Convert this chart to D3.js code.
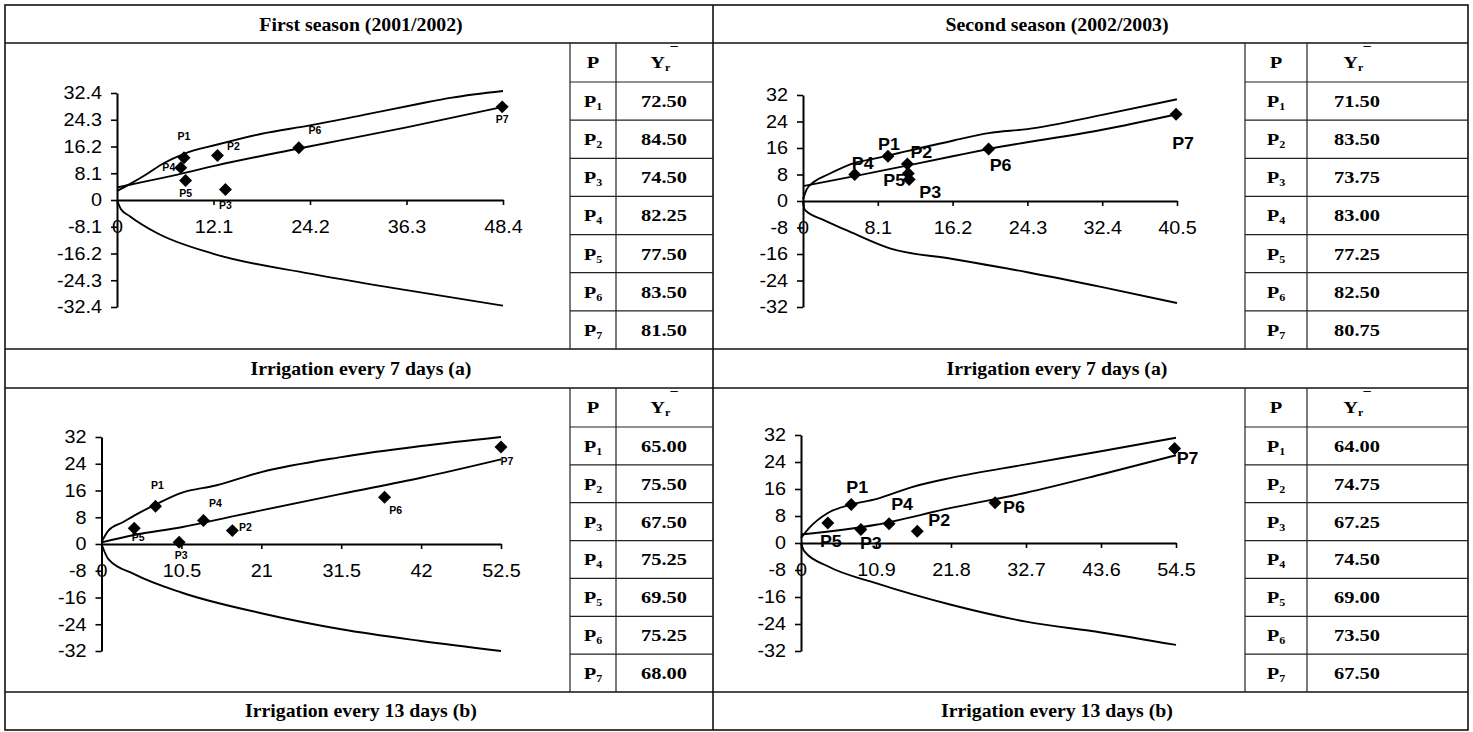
<!DOCTYPE html>
<html><head><meta charset="utf-8">
<script src="https://cdn.jsdelivr.net/npm/d3@7"></script>
<style>body{margin:0;background:#fff}</style>
</head><body><svg id="c" width="1473" height="732"></svg>
<script>
// ---------------- data ----------------
const seasonTitles = ["First season (2001/2002)", "Second season (2002/2003)"];
const irrigationLabels = ["Irrigation every 7 days (a)", "Irrigation every 13 days (b)"];
const pointNames = ["P1", "P2", "P3", "P4", "P5", "P6", "P7"];

// Panel A: first season, irrigation every 7 days
const xTicksA = [0, 12.1, 24.2, 36.3, 48.4];
const yTicksA = [-32.4, -24.3, -16.2, -8.1, 0, 8.1, 16.2, 24.3, 32.4];
const pointsXA = [8.4, 12.6, 13.6, 8.0, 8.6, 22.8, 48.3];
const pointsYA = [12.8, 13.5, 3.2, 9.8, 5.9, 15.8, 28.2];
const upperXA = [0, 1.6, 3.7, 5.9, 8.4, 12.6, 18, 24.2, 31.4, 37.6, 42, 48.4];
const upperYA = [2.7, 4.8, 7.8, 11.2, 14, 16.8, 20, 22.6, 26, 29, 31, 33];
const middleXA = [0, 1.75, 7.6, 12.5, 22.8, 36.3, 48.4];
const middleYA = [3.8, 4.7, 7.7, 10.5, 15.6, 22, 28.2];
const lowerXA = [0, 0.5, 1.6, 5, 12.1, 24.2, 36.3, 48.4];
const lowerYA = [0, -2.8, -4.9, -10, -16.3, -22.3, -27.3, -32];
const yrA = ["72.50", "84.50", "74.50", "82.25", "77.50", "83.50", "81.50"];

// Panel B: second season, irrigation every 7 days
const xTicksB = [0, 8.1, 16.2, 24.3, 32.4, 40.5];
const yTicksB = [-32, -24, -16, -8, 0, 8, 16, 24, 32];
const pointsXB = [9.2, 11.3, 11.5, 5.6, 11.4, 20.1, 40.4];
const pointsYB = [13.5, 11.2, 6.5, 8.0, 8.3, 15.7, 26.2];
const upperXB = [0, 0.4, 1.2, 2.7, 5.6, 8.1, 10.4, 16.2, 20.1, 24.3, 32.4, 40.5];
const upperYB = [0.5, 3.5, 5.8, 8, 11.5, 13, 14.5, 18.2, 20.5, 21.7, 26, 30.7];
const middleXB = [0, 5.6, 16.2, 20.1, 32.4, 40.5];
const middleYB = [4.5, 7.5, 13.5, 15.7, 21.5, 26.2];
const lowerXB = [0, 0.2, 2.2, 4.7, 9.4, 16.2, 24.3, 32.4, 40.5];
const lowerYB = [0, -2.7, -5.7, -8.8, -14.3, -17.5, -21.5, -26, -30.8];
const yrB = ["71.50", "83.50", "73.75", "83.00", "77.25", "82.50", "80.75"];

// Panel C: first season, irrigation every 13 days
const xTicksC = [0, 10.5, 21, 31.5, 42, 52.5];
const yTicksC = [-32, -24, -16, -8, 0, 8, 16, 24, 32];
const pointsXC = [7.1, 17.2, 10.2, 13.4, 4.3, 37.2, 52.5];
const pointsYC = [11.3, 4.0, 0.5, 7.0, 4.7, 14.0, 29.0];
const upperXC = [0, 0.9, 2.8, 4.3, 7.1, 10.5, 15, 21, 31.5, 42, 52.5];
const upperYC = [0.5, 4, 6.5, 8.5, 11.8, 15.3, 17.5, 21.5, 26, 29.3, 32];
const middleXC = [0, 4.3, 10.5, 17.7, 31.5, 42, 52.5];
const middleYC = [0.5, 2.7, 5, 8.5, 15, 19.8, 25.3];
const lowerXC = [0, 0.9, 4.3, 10.5, 21, 31.5, 42, 52.5];
const lowerYC = [0, -4.5, -9, -14.5, -20.7, -25.5, -29, -32];
const yrC = ["65.00", "75.50", "67.50", "75.25", "69.50", "75.25", "68.00"];

// Panel D: second season, irrigation every 13 days
const xTicksD = [0, 10.9, 21.8, 32.7, 43.6, 54.5];
const yTicksD = [-32, -24, -16, -8, 0, 8, 16, 24, 32];
const pointsXD = [7.3, 16.9, 8.7, 12.8, 3.9, 28.2, 54.3];
const pointsYD = [11.4, 3.5, 4.0, 5.7, 5.9, 11.9, 28.0];
const upperXD = [0, 1.2, 3.9, 7.3, 10.9, 16, 21.8, 32.7, 43.6, 54.5];
const upperYD = [1.5, 4.5, 8.9, 11.4, 13, 16.5, 19.3, 23.3, 27.2, 31.2];
const middleXD = [0, 10.9, 21.8, 32.7, 43.6, 54.5];
const middleYD = [2.5, 5.4, 10.4, 14.9, 20.3, 26];
const lowerXD = [0, 0.5, 3.9, 10.9, 21.8, 32.7, 43.6, 54.5];
const lowerYD = [0, -2.5, -6.9, -11.9, -18.3, -23.3, -26.5, -30.2];
const yrD = ["64.00", "74.75", "67.25", "74.50", "69.00", "73.50", "67.50"];

// ---------------- layout (pixels / styling only) ----------------
const layout = {
  outer: { x0: 5, y0: 5, x1: 1468, y1: 730 },
  divX: 713,
  hLines: [43, 349, 388, 692],
  titleY: 25, rowLabelY: [369, 711],
  titleX: [361, 1057],
  tables: [
    { cols: [570, 616, 713], pX: 593, vX: 664 },
    { cols: [1245, 1307, 1468], pX: 1276, vX: 1357 }
  ],
  tableRows: [{ y0: 43, yh: 82, y1: 349 }, { y0: 388, yh: 427, y1: 692 }],
  panels: {
    A: { x: [117, 503], y: [93, 307], lab: 10, off: [[0,-21],[16,-9],[0,16],[-12,0],[0,13],[16,-17],[0,13]] },
    B: { x: [803, 1177], y: [95, 307], lab: 17, off: [[1,-12],[14,-12],[21,13],[8,-11],[-14,7],[12,16],[7,29]] },
    C: { x: [101.5, 501], y: [437, 651], lab: 10, off: [[2,-21],[13,-3],[2,13],[12,-17],[4,9],[11,13],[6,15]] },
    D: { x: [801, 1176], y: [435, 651], lab: 17, off: [[6,-17],[22,-11],[10,14],[13,-20],[3,18],[19,4],[13,10]] }
  }
};

const panelData = {
  A: { xt: xTicksA, yt: yTicksA, px: pointsXA, py: pointsYA, ux: upperXA, uy: upperYA, mx: middleXA, my: middleYA, lx: lowerXA, ly: lowerYA, yr: yrA, col: 0, row: 0 },
  B: { xt: xTicksB, yt: yTicksB, px: pointsXB, py: pointsYB, ux: upperXB, uy: upperYB, mx: middleXB, my: middleYB, lx: lowerXB, ly: lowerYB, yr: yrB, col: 1, row: 0 },
  C: { xt: xTicksC, yt: yTicksC, px: pointsXC, py: pointsYC, ux: upperXC, uy: upperYC, mx: middleXC, my: middleYC, lx: lowerXC, ly: lowerYC, yr: yrC, col: 0, row: 1 },
  D: { xt: xTicksD, yt: yTicksD, px: pointsXD, py: pointsYD, ux: upperXD, uy: upperYD, mx: middleXD, my: middleYD, lx: lowerXD, ly: lowerYD, yr: yrD, col: 1, row: 1 }
};

// ---------------- drawing ----------------
const svg = d3.select("#c");
const SERIF = "'Liberation Serif','Times New Roman',serif";
const SANS = "'Liberation Sans',Arial,sans-serif";

function stretch(sel, sx) {
  sel.each(function () {
    const t = d3.select(this);
    const x = +t.attr("x") || 0, y = +t.attr("y") || 0;
    t.attr("transform", `translate(${x},${y}) scale(${sx},1) translate(${-x},${-y})`);
  });
}

const L = layout;
// frame
svg.append("rect").attr("x", L.outer.x0).attr("y", L.outer.y0)
  .attr("width", L.outer.x1 - L.outer.x0).attr("height", L.outer.y1 - L.outer.y0)
  .attr("fill", "none").attr("stroke", "#111").attr("stroke-width", 1.6);
L.hLines.forEach(y => svg.append("line").attr("x1", L.outer.x0).attr("x2", L.outer.x1)
  .attr("y1", y).attr("y2", y).attr("stroke", "#111").attr("stroke-width", 1.6));
svg.append("line").attr("x1", L.divX).attr("x2", L.divX).attr("y1", L.outer.y0).attr("y2", L.outer.y1)
  .attr("stroke", "#111").attr("stroke-width", 1.6);

// titles
seasonTitles.forEach((t, i) => {
  svg.append("text").attr("x", L.titleX[i]).attr("y", L.titleY).attr("text-anchor", "middle")
    .attr("dominant-baseline", "central").attr("font-family", SERIF).attr("font-weight", "bold")
    .attr("font-size", 18).text(t).call(stretch, 1.1);
  irrigationLabels.forEach((r, j) => {
    svg.append("text").attr("x", L.titleX[i]).attr("y", L.rowLabelY[j]).attr("text-anchor", "middle")
      .attr("dominant-baseline", "central").attr("font-family", SERIF).attr("font-weight", "bold")
      .attr("font-size", 18).text(r).call(stretch, 1.1);
  });
});

Object.keys(panelData).forEach(key => {
  const d = panelData[key], P = L.panels[key];
  const xMax = d.xt[d.xt.length - 1], yMax = d.yt[d.yt.length - 1], yMin = d.yt[0];
  const x = d3.scaleLinear().domain([0, xMax]).range(P.x);
  const y = d3.scaleLinear().domain([yMax, yMin]).range(P.y);
  const g = svg.append("g");

  // curves
  const line = d3.line().x(p => x(p[0])).y(p => y(p[1])).curve(d3.curveMonotoneX);
  [[d.ux, d.uy], [d.mx, d.my], [d.lx, d.ly]].forEach(([xs, ys]) => {
    g.append("path").attr("d", line(xs.map((v, i) => [v, ys[i]])))
      .attr("fill", "none").attr("stroke", "#000").attr("stroke-width", 1.9);
  });

  // axes
  const yAx = g.append("g").attr("transform", `translate(${x(0)},0)`)
    .call(d3.axisLeft(y).tickValues(d.yt).tickFormat(v => String(v)).tickSize(6).tickSizeOuter(0).tickPadding(9));
  const xAx = g.append("g").attr("transform", `translate(0,${y(0)})`)
    .call(d3.axisBottom(x).tickValues(d.xt).tickFormat(v => String(v)).tickSize(5).tickSizeOuter(0).tickPadding(15));
  [yAx, xAx].forEach(a => {
    a.select(".domain").attr("stroke", "#000").attr("stroke-width", 2);
    a.selectAll(".tick line").attr("stroke", "#000").attr("stroke-width", 1.6);
    a.selectAll(".tick text").attr("font-family", SANS).attr("font-size", 18).attr("fill", "#000");
  });
  yAx.selectAll(".tick text").call(stretch, 1.1);
  xAx.selectAll(".tick text").call(stretch, 1.1);

  // points
  const sym = d3.symbol().type(d3.symbolSquare).size(84);
  d.px.forEach((v, i) => {
    g.append("path").attr("d", sym())
      .attr("transform", `translate(${x(v)},${y(d.py[i])}) rotate(45)`).attr("fill", "#000");
    g.append("text").attr("x", x(v) + P.off[i][0]).attr("y", y(d.py[i]) + P.off[i][1])
      .attr("text-anchor", "middle").attr("dominant-baseline", "central")
      .attr("font-family", SANS).attr("font-weight", "bold").attr("font-size", P.lab)
      .text(pointNames[i]).call(stretch, 1.05);
  });

  // table
  const T = L.tables[d.col], R = L.tableRows[d.row];
  const rowH = (R.y1 - R.yh) / pointNames.length;
  const tg = svg.append("g");
  const ts = "#222";
  [T.cols[0], T.cols[1]].forEach(cx => tg.append("line").attr("x1", cx).attr("x2", cx)
    .attr("y1", R.y0).attr("y2", R.y1).attr("stroke", ts).attr("stroke-width", 1.2));
  const rowLines = [R.yh].concat(pointNames.map((_, i) => R.yh + rowH * (i + 1)).slice(0, -1));
  rowLines.forEach(yy => tg.append("line").attr("x1", T.cols[0]).attr("x2", T.cols[2])
    .attr("y1", yy).attr("y2", yy).attr("stroke", ts).attr("stroke-width", 1.2));
  const txt = (xx, yy) => tg.append("text").attr("x", xx).attr("y", yy).attr("text-anchor", "middle")
    .attr("font-family", SERIF).attr("font-weight", "bold").attr("font-size", 17).attr("fill", "#000");
  const hy = (R.y0 + R.yh) / 2 + 6;
  txt(T.pX, hy).text("P").call(stretch, 1.2);
  const yh = txt(T.vX, hy);
  yh.append("tspan").text("Y");
  yh.append("tspan").attr("font-size", 10).attr("dy", 3).text("r");
  yh.append("tspan").attr("font-size", 12).attr("dy", -15).text("\u00AF");
  yh.call(stretch, 1.2);
  pointNames.forEach((n, i) => {
    const cy = R.yh + rowH * (i + 0.5) + 6;
    const pt = txt(T.pX, cy);
    pt.append("tspan").text("P");
    pt.append("tspan").attr("font-size", 10).attr("dy", 3).text(n.slice(1));
    pt.call(stretch, 1.2);
    txt(T.vX, cy).text(d.yr[i]).call(stretch, 1.2);
  });
});
</script></body></html>
